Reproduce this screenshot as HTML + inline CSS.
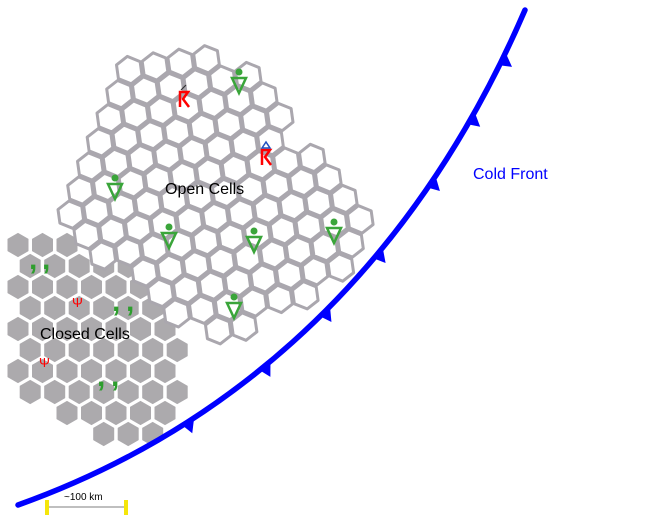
<!DOCTYPE html>
<html><head><meta charset="utf-8"><style>
html,body{margin:0;padding:0;background:#fff;width:652px;height:528px;overflow:hidden}
svg{display:block}
text{font-family:"Liberation Sans",sans-serif}
</style></head><body>
<svg id="s" width="652" height="528" viewBox="0 0 652 528" xmlns="http://www.w3.org/2000/svg">
<g id="closed"></g>
<g id="open"></g>
<path id="front" d="M18,505 C200,440 400,300 525,10" fill="none" stroke="#0000ff" stroke-width="5.5" stroke-linecap="round"/>
<g id="tri" fill="#0000ff"></g>
<g id="sym"></g>
<text x="473" y="179" font-size="16" fill="#0000ff">Cold Front</text>
<text x="165" y="194" font-size="16" fill="#000">Open Cells</text>
<text x="40" y="339" font-size="16" fill="#000">Closed Cells</text>
<line x1="47" y1="507" x2="126" y2="507" stroke="#aaa" stroke-width="1.5"/>
<rect x="45" y="500" width="4" height="15" fill="#f5e60a"/>
<rect x="124" y="500" width="4" height="15" fill="#f5e60a"/>
<text x="64" y="500" font-size="10" fill="#000">~100 km</text>
</svg>
<script>
var NS="http://www.w3.org/2000/svg";
function inPoly(x,y,p){var c=false;for(var i=0,j=p.length-1;i<p.length;j=i++){var xi=p[i][0],yi=p[i][1],xj=p[j][0],yj=p[j][1];if(((yi>y)!=(yj>y))&&(x<(xj-xi)*(y-yi)/(yj-yi)+xi))c=!c;}return c;}
function hex(cx,cy,r,rot){var s="";for(var k=0;k<6;k++){var a=(k*60+rot)*Math.PI/180;s+=(cx+r*Math.cos(a)).toFixed(1)+","+(cy+r*Math.sin(a)).toFixed(1)+" ";}return s;}
function el(t,a,parent){var e=document.createElementNS(NS,t);for(var k in a)e.setAttribute(k,a[k]);parent.appendChild(e);return e;}
var openPoly=[[108,95],[140,55],[200,48],[262,65],[288,100],[280,135],[325,160],[362,205],[366,245],[335,275],[300,300],[260,328],[172,335],[150,310],[130,285],[100,258],[52,232],[55,195],[85,175],[100,135]];
var closedPoly=[[8,250],[40,232],[120,255],[155,285],[182,330],[185,405],[165,440],[100,440],[55,415],[8,385]];
var cg=document.getElementById("closed"),og=document.getElementById("open");
var dx=26,dy=22.5,ang=-8*Math.PI/180;
for(var i=-20;i<30;i++)for(var j=-20;j<30;j++){
 var x0=i*dx+(j%2?dx/2:0),y0=j*dy;
 var x=20+x0*Math.cos(ang)-y0*Math.sin(ang),y=40+x0*Math.sin(ang)+y0*Math.cos(ang);
 if(inPoly(x,y,openPoly))el("polygon",{points:hex(x,y,13.8,30-8),fill:"#fff",stroke:"#aaa7ae","stroke-width":"3","stroke-linejoin":"round"},og);
}
for(var i=-5;i<12;i++)for(var j=0;j<12;j++){
 var x=18+i*24.5+(j%2?12.2:0),y=245+j*21;
 if(inPoly(x,y,closedPoly))el("polygon",{points:hex(x,y,11.6,30),fill:"#acaaad","stroke":"#acaaad","stroke-width":"1","stroke-linejoin":"round"},cg);
}
var f=document.getElementById("front"),L=f.getTotalLength(),tg=document.getElementById("tri");
var pts=[];for(var l=0;l<=L;l+=1){var p=f.getPointAtLength(l);pts.push([l,p.x,p.y]);}
[[505,60],[478,122],[440,188],[385,258],[330,316],[268,370],[190,425]].forEach(function(t){
 var best=0,bd=1e9;pts.forEach(function(q){var d=(q[1]-t[0])*(q[1]-t[0])+(q[2]-t[1])*(q[2]-t[1]);if(d<bd){bd=d;best=q[0];}});
 var l=best,p=f.getPointAtLength(l),q=f.getPointAtLength(l+6),ux=(q.x-p.x)/6,uy=(q.y-p.y)/6;
 var nx=-uy,ny=ux; if(nx<0){nx=-nx;ny=-ny;}
 var a=[p.x-ux*7,p.y-uy*7],b=[p.x+ux*7,p.y+uy*7],c=[p.x+nx*12-ux*3,p.y+ny*12-uy*3];
 el("polygon",{points:a.join(",")+" "+b.join(",")+" "+c.join(",")},tg);
});
var sg=document.getElementById("sym");
[[239,82],[115,188],[169,237],[254,241],[334,232],[234,307]].forEach(function(p){
 el("circle",{cx:p[0],cy:p[1]-10,r:3.5,fill:"#3aa53a"},sg);
 el("polygon",{points:(p[0]-7)+","+(p[1]-4)+" "+(p[0]+7)+","+(p[1]-4)+" "+p[0]+","+(p[1]+11),fill:"none",stroke:"#3aa53a","stroke-width":"2.5"},sg);
});
[[183,100],[265,158]].forEach(function(p){
 el("path",{d:"M"+(p[0]-3)+","+(p[1]+7)+" V"+(p[1]-8)+" H"+(p[0]+5)+" L"+(p[0])+","+(p[1]-1)+" L"+(p[0]+6)+","+(p[1]+7),fill:"none",stroke:"#f00","stroke-width":"2.5"},sg);
});
el("polygon",{points:"262,148 266,142 270,148",fill:"none",stroke:"#2050c0","stroke-width":"1.5"},sg);
el("line",{x1:181,y1:90,x2:186,y2:85,stroke:"#333","stroke-width":"1.2"},sg);
[[33,265],[46,265],[116,307],[130,307],[101,382],[115,382]].forEach(function(p){
 var t=el("text",{x:p[0]-4,y:p[1]+4,"font-size":"30","font-weight":"bold",fill:"#2e9e2e"},sg);t.textContent=",";
});
[[77,302],[44,362]].forEach(function(p){
 var t=el("text",{x:p[0]-5,y:p[1]+5,"font-size":"13",fill:"#f00"},sg);t.textContent="Ψ";
});
</script>
</body></html>
